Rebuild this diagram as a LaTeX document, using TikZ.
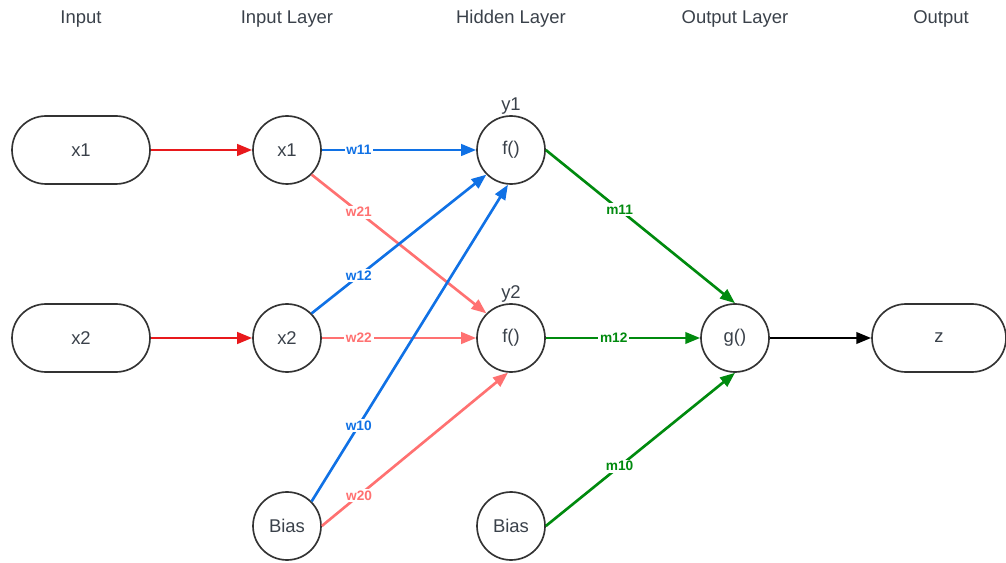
\documentclass[tikz,border=0pt]{standalone}
\usepackage{fontspec}
\setmainfont{Liberation Sans}
\usetikzlibrary{arrows.meta}
\definecolor{txt}{HTML}{3A414A}
\definecolor{ln}{HTML}{333333}
\definecolor{wred}{HTML}{E8191C}
\definecolor{wblue}{HTML}{1071E5}
\definecolor{wpink}{HTML}{FF7171}
\definecolor{wgreen}{HTML}{008A0E}

\begin{document}
\begin{tikzpicture}[x=0.02cm,y=-0.02cm,
  every node/.style={font=\fontsize{10.5}{12}\selectfont},
  neuron/.style={circle, draw=ln, text=txt, line width=0.95pt, minimum size=1.36cm, inner sep=0pt},
  pill/.style={rectangle, rounded corners=0.68cm, draw=ln, text=txt, line width=0.95pt,
    minimum width=2.76cm, minimum height=1.36cm},
  head/.style={text=txt},
  conn/.style={line width=1.5pt, -{Triangle[length=8.5pt,width=6.5pt]}},
  wlbl/.style={fill=white, inner sep=1pt, font=\fontsize{7.8}{9}\selectfont\bfseries}]
  \useasboundingbox (0,0) rectangle (1006,563);

  % column titles
  \node[head] (t1) at (81,19) {Input};
  \node[head] (t2) at (287,19) {Input Layer};
  \node[head] (t3) at (511,19) {Hidden Layer};
  \node[head] (t4) at (735,19) {Output Layer};
  \node[head] (t5) at (941,19) {Output};

  % inputs
  \node[pill] (in1) at (81,150) {x1};
  \node[pill] (in2) at (81,338) {x2};

  % input layer
  \node[neuron] (x1) at (287,150) {x1};
  \node[neuron] (x2) at (287,338) {x2};
  \node[neuron] (b1) at (287,526) {Bias};

  % hidden layer
  \node[neuron, label={[text=txt, inner sep=0pt]above:y1}] (h1) at (511,150) {f()};
  \node[neuron, label={[text=txt, inner sep=0pt]above:y2}] (h2) at (511,338) {f()};
  \node[neuron] (b2) at (511,526) {Bias};

  % output layer and output
  \node[neuron] (g) at (735,338) {g()};
  \node[pill, minimum width=2.68cm] (z) at (939,338) {z};

  % input -> input layer
  \draw[conn, wred] (in1) -- (x1);
  \draw[conn, wred] (in2) -- (x2);

  % input layer -> hidden layer
  \draw[conn, wpink] (x1.-45) -- node[wlbl, pos=.27] {w21} (h2.135);
  \draw[conn, wpink] (x2) -- node[wlbl, pos=.24] {w22} (h2);
  \draw[conn, wpink] (b1.east) -- node[wlbl, pos=.2] {w20} (h2.-95);
  \draw[conn, wblue] (x1) -- node[wlbl, pos=.24] {w11} (h1);
  \draw[conn, wblue] (x2.45) -- node[wlbl, pos=.27] {w12} (h1.-135);
  \draw[conn, wblue] (b1.45) -- node[wlbl, pos=.24] {w10} (h1.-95);

  % hidden layer -> output layer
  \draw[conn, wgreen] (h1.east) -- node[wlbl, pos=.39] {m11} (g.north);
  \draw[conn, wgreen] (h2) -- node[wlbl, pos=.44] {m12} (g);
  \draw[conn, wgreen] (b2.east) -- node[wlbl, pos=.39] {m10} (g.south);

  % output layer -> output
  \draw[conn, black] (g) -- (z);
\end{tikzpicture}
\end{document}
